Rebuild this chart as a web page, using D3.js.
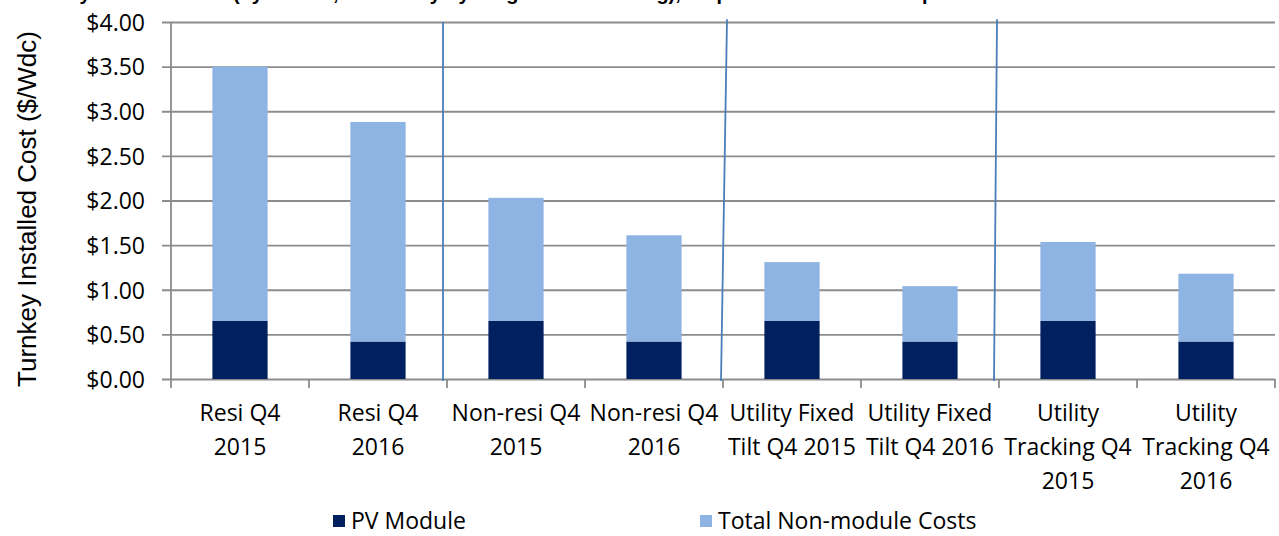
<!DOCTYPE html>
<html>
<head>
<meta charset="utf-8">
<script src="https://cdn.jsdelivr.net/npm/d3@7"></script>
<style>
  body { margin: 0; background: #fff; }
  svg { display: block; }
</style>
</head>
<body>
<svg id="chart" width="1279" height="536"></svg>
<script>

// Chart data
const categories = [
	"Resi Q4\n2015", "Resi Q4\n2016",
	"Non-resi Q4\n2015", "Non-resi Q4\n2016",
	"Utility Fixed\nTilt Q4 2015", "Utility Fixed\nTilt Q4 2016",
	"Utility\nTracking Q4\n2015", "Utility\nTracking Q4\n2016"
];
const pvModule = [0.65, 0.42, 0.65, 0.42, 0.65, 0.42, 0.65, 0.42];
const nonModule = [2.85, 2.46, 1.38, 1.19, 0.66, 0.62, 0.885, 0.76];
const seriesNames = ["PV Module", "Total Non-module Costs"];
const seriesColors = ["#002060", "#8eb4e3"];
const yTicks = [0, 0.5, 1, 1.5, 2, 2.5, 3, 3.5, 4];
const yTitle = "Turnkey Installed Cost ($/Wdc)";
const chartTitle = "Figure 1. Turnkey Installed Cost (by Market, and Utility by Single-axis Tracking), in quarter 4 2015 and in quarter 4 2016";

// Group separators (drawn lines between market groups)
const separators = [
	{ after: 1, dxTop: -4, dxBottom: -4, top: 4.0 },
	{ after: 3, dxTop: 4, dxBottom: -2, top: 4.03 },
	{ after: 5, dxTop: -2, dxBottom: -5, top: 4.03 }
];

// Draw chart
function drawChart(svgId) {

	const svg = d3.select(svgId);
	const margin = { left: 171, right: 4, top: 22, bottom: 157 };
	const width = +svg.attr("width"), height = +svg.attr("height");
	const tickFont = "'Open Sans', sans-serif";

	const x = d3.scaleBand()
		.domain(categories)
		.range([margin.left, width - margin.right])
		.paddingInner(0.6)
		.paddingOuter(0.3);

	const y = d3.scaleLinear()
		.domain([0, 4])
		.range([height - margin.bottom, margin.top]);

	// Title sits above the picture, only descenders show
	svg.append("text")
		.attr("x", 1051)
		.attr("y", -0.5)
		.attr("text-anchor", "end")
		.style("font-family", "'Liberation Sans', Arial, sans-serif")
		.style("font-weight", "bold")
		.style("font-size", "20px")
		.text(chartTitle);

	// Y axis with gridlines
	const yAxis = svg.append("g")
		.attr("transform", `translate(${margin.left},0)`)
		.call(d3.axisLeft(y)
			.tickValues(yTicks)
			.tickSize(-(width - margin.right - margin.left))
			.tickSizeOuter(0)
			.tickFormat(d => "$" + d3.format(".2f")(d)));
	yAxis.select(".domain").remove();
	yAxis.selectAll(".tick line")
		.attr("x1", -9)
		.attr("stroke", "#8c8c8c")
		.attr("stroke-width", 1.8);
	yAxis.selectAll(".tick text")
		.attr("x", -26)
		.attr("dy", "0.36em")
		.style("font-family", tickFont)
		.style("font-size", "23px")
		.attr("fill", "#000");

	// Left axis line
	svg.append("line")
		.attr("x1", margin.left).attr("x2", margin.left)
		.attr("y1", y(4)).attr("y2", y(0))
		.attr("stroke", "#8c8c8c")
		.attr("stroke-width", 1.8);

	// Stacked bars
	const stackData = categories.map((c, i) => ({ cat: c, pv: pvModule[i], nm: nonModule[i] }));
	const stacked = d3.stack().keys(["pv", "nm"])(stackData);

	svg.append("g")
		.selectAll("g")
		.data(stacked)
		.join("g")
		.attr("fill", (d, i) => seriesColors[i])
		.selectAll("rect")
		.data(d => d)
		.join("rect")
		.attr("x", d => x(d.data.cat))
		.attr("width", x.bandwidth())
		.attr("y", d => y(d[1]))
		.attr("height", d => y(d[0]) - y(d[1]));

	// X axis ticks at category boundaries
	const step = x.step();
	const boundaries = d3.range(categories.length + 1).map(i => margin.left + i * step);
	svg.append("g")
		.selectAll("line")
		.data(boundaries)
		.join("line")
		.attr("x1", d => d).attr("x2", d => d)
		.attr("y1", y(0)).attr("y2", y(0) + 9)
		.attr("stroke", "#8c8c8c")
		.attr("stroke-width", 1.8);

	// Category labels
	const labels = svg.append("g")
		.selectAll("text")
		.data(categories)
		.join("text")
		.attr("text-anchor", "middle")
		.style("font-family", tickFont)
		.style("font-size", "23px")
		.attr("fill", "#000");
	labels.each(function(d) {
		const t = d3.select(this);
		const cx = x(d) + x.bandwidth() / 2;
		d.split("\n").forEach((line, i) => {
			t.append("tspan")
				.attr("x", cx)
				.attr("y", 421 + i * 34)
				.text(line);
		});
	});

	// Separator lines
	svg.append("g")
		.selectAll("line")
		.data(separators)
		.join("line")
		.attr("x1", d => boundaries[d.after + 1] + d.dxTop)
		.attr("y1", d => y(d.top))
		.attr("x2", d => boundaries[d.after + 1] + d.dxBottom)
		.attr("y2", y(0) + 2)
		.attr("stroke", "#4a7ebb")
		.attr("stroke-width", 1.8);

	// Y axis title
	svg.append("text")
		.attr("transform", "translate(36,209) rotate(-90)")
		.attr("text-anchor", "middle")
		.style("font-family", "'Liberation Sans', Arial, sans-serif")
		.style("font-size", "26px")
		.attr("fill", "#000")
		.text(yTitle);

	// Legend
	const legendX = [333, 700];
	const legend = svg.append("g")
		.selectAll("g")
		.data(seriesNames)
		.join("g")
		.attr("transform", (d, i) => `translate(${legendX[i]},515)`);
	legend.append("rect")
		.attr("width", 12).attr("height", 12)
		.attr("fill", (d, i) => seriesColors[i]);
	legend.append("text")
		.attr("x", 18)
		.attr("y", 14)
		.style("font-family", tickFont)
		.style("font-size", "23px")
		.attr("fill", "#000")
		.text(d => d);
}

drawChart("#chart");
</script>
</body>
</html>
